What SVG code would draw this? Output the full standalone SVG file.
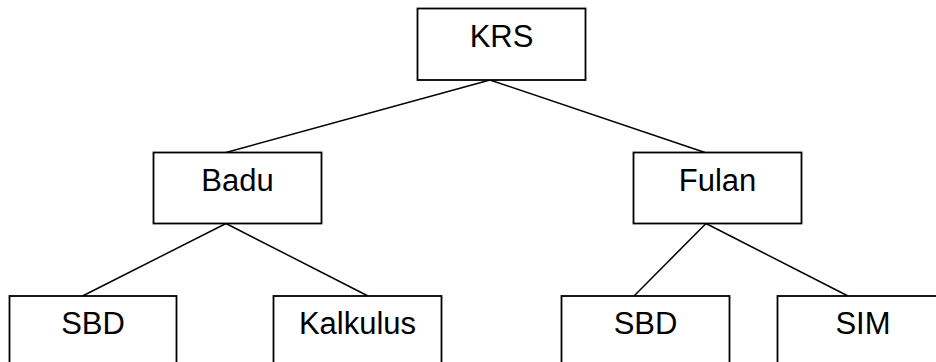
<svg xmlns="http://www.w3.org/2000/svg" width="936" height="362" viewBox="0 0 936 362">
<style>
.box{fill:#fff;stroke:#000;stroke-width:1.8}
.lbl{font-family:"Liberation Sans",Arial,sans-serif;font-size:31px;fill:#000;text-anchor:middle}
.con line{stroke:#000;stroke-width:1.5}
</style>
<rect width="936" height="362" fill="#fff"/>
<g id="connectors" class="con">
<line x1="490" y1="80" x2="226" y2="152.5"/>
<line x1="490" y1="80" x2="705" y2="152.5"/>
<line x1="226" y1="223.5" x2="82.5" y2="296"/>
<line x1="226" y1="223.5" x2="368" y2="296"/>
<line x1="706" y1="223.5" x2="634" y2="296"/>
<line x1="706" y1="223.5" x2="848" y2="296"/>
</g>
<g id="krs"><rect class="box" x="417.5" y="8.5" width="168" height="71.5"/><text class="lbl" x="501.5" y="47">KRS</text></g>
<g id="badu"><rect class="box" x="153.5" y="152.5" width="168" height="71"/><text class="lbl" x="237.5" y="190.5">Badu</text></g>
<g id="fulan"><rect class="box" x="633.5" y="152.5" width="168" height="71"/><text class="lbl" x="717.5" y="190.5">Fulan</text></g>
<g id="sbd1"><rect class="box" x="9.5" y="296" width="167" height="71"/><text class="lbl" x="93" y="334">SBD</text></g>
<g id="kalkulus"><rect class="box" x="273.5" y="296" width="168" height="71"/><text class="lbl" x="357.5" y="334">Kalkulus</text></g>
<g id="sbd2"><rect class="box" x="561.5" y="296" width="168" height="71"/><text class="lbl" x="645.5" y="334">SBD</text></g>
<g id="sim"><rect class="box" x="777.5" y="296" width="168" height="71"/><text class="lbl" x="863" y="334">SIM</text></g>
</svg>
